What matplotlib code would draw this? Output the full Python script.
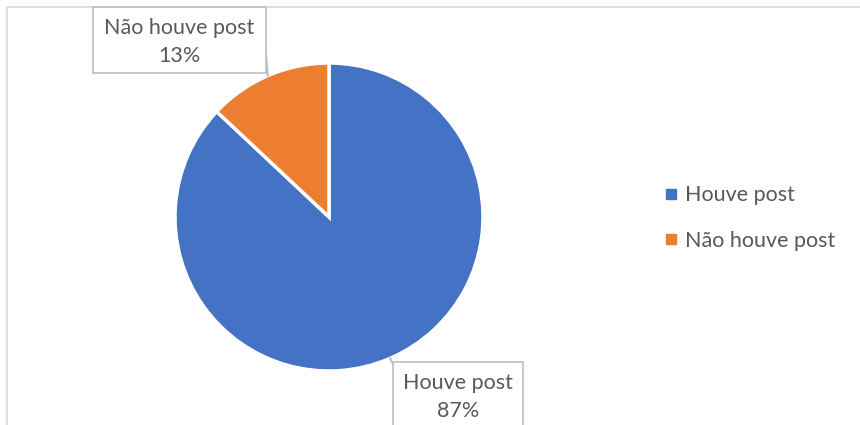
import numpy as np
import matplotlib.pyplot as plt
from matplotlib.lines import Line2D
from matplotlib.patches import Rectangle

labels = ["Houve post", "Não houve post"]
shares = [87, 13]
colors = ["#4472C4", "#ED7D31"]

W, H = 860, 425
plt.rcParams["font.family"] = ["Lato", "DejaVu Sans"]
text_color = "#595959"
box_edge = "#BFBFBF"

fig = plt.figure(figsize=(W / 100, H / 100), dpi=100)
ax = fig.add_axes([0, 0, 1, 1])

# pixel-like coordinates, y measured upward
cx, cy, r = 329, H - 217, 154
wedges, _ = ax.pie(shares, colors=colors, startangle=90, counterclock=False,
                   center=(cx, cy), radius=r,
                   wedgeprops=dict(edgecolor="white", linewidth=2.5))
ax.set_xlim(0, W)
ax.set_ylim(0, H)
ax.set_aspect("equal")
ax.axis("off")

# chart area border (runs off the right and bottom)
ax.plot([7, 7, W + 5], [-5, H - 7, H - 7], color="#D9D9D9", lw=1.2,
        clip_on=False, zorder=0)

# callout boxes: left, top, width, height (from the top edge), leader start point
callouts = [
    (393, 362, 130, 70, (393, H - 364)),
    (93, 7, 173, 66, (266, H - 55)),
]
for w, txt, share, (bx, by, bw, bh, start) in zip(wedges, labels, shares, callouts):
    mid = np.deg2rad((w.theta1 + w.theta2) / 2)
    tip = (cx + r * np.cos(mid), cy + r * np.sin(mid))
    ax.plot([start[0], tip[0]], [start[1], tip[1]], color=box_edge, lw=1.5, zorder=3)
    ax.add_patch(Rectangle((bx, H - by - bh), bw, bh, facecolor="white",
                           edgecolor=box_edge, lw=1.2, zorder=3))
    ax.text(bx + bw / 2, H - by - 35, f"{txt}\n{share}%", ha="center", va="center",
            fontsize=15.5, color=text_color, linespacing=1.5, zorder=4)

handles = [Line2D([], [], marker="s", linestyle="none", markersize=6.5,
                  markerfacecolor=c, markeredgecolor=c) for c in colors]
ax.legend(handles, labels, loc="center left", bbox_to_anchor=(656 / W, 1 - 218 / H),
          frameon=False, fontsize=15.5, labelcolor=text_color, handlelength=0.6,
          handletextpad=0.35, labelspacing=1.2, borderaxespad=0)

fig.savefig("out.png", dpi=100)
